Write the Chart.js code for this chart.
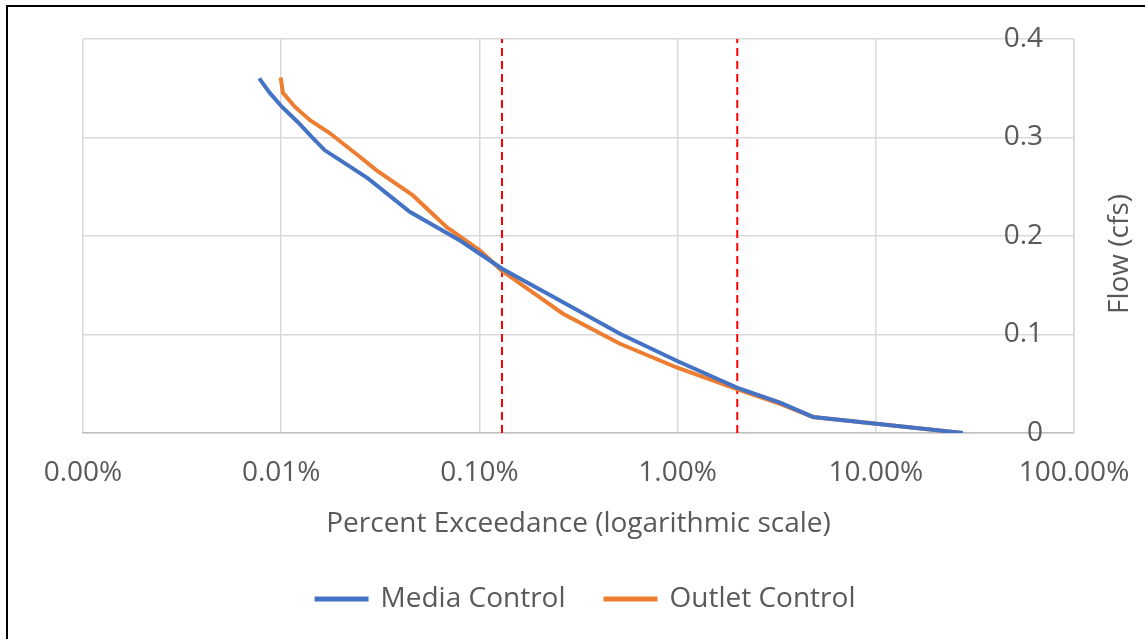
<!DOCTYPE html>
<html>
<head>
<meta charset="utf-8">
<script src="https://cdn.jsdelivr.net/npm/chart.js@4/dist/chart.umd.min.js"></script>
<style>
  html, body { margin: 0; padding: 0; background: #fff; }
  #wrap { width: 1145px; height: 639px; position: relative; }
</style>
</head>
<body>
<div id="wrap"><canvas id="flowChart" width="1145" height="639"></canvas></div>
<script>
// percent exceedance (x, in %) and flow (cfs)
const mediaPct = [0.00775, 0.00878, 0.0101, 0.01215, 0.01425, 0.0166, 0.0198, 0.0274, 0.0447, 0.0798, 0.1296, 0.2455, 0.512, 0.989, 1.99, 3.29, 4.82, 27.5];
const mediaFlow = [0.360, 0.345, 0.331, 0.3155, 0.3006, 0.287, 0.277, 0.2585, 0.2243, 0.1954, 0.167, 0.1364, 0.1008, 0.0733, 0.0461, 0.0308, 0.0163, 0];

const outletPct = [0.00994, 0.0102, 0.01174, 0.01397, 0.01763, 0.025, 0.0303, 0.0462, 0.0684, 0.1007, 0.1296, 0.206, 0.264, 0.512, 0.989, 1.99, 3.29, 4.82, 27.5];
const outletFlow = [0.361, 0.3454, 0.331, 0.3176, 0.3043, 0.2802, 0.2667, 0.2412, 0.209, 0.1852, 0.1649, 0.1364, 0.1211, 0.0906, 0.0665, 0.0445, 0.0295, 0.0163, 0];

const markerPct = [0.13, 2.0];
const xTicks = [0.001, 0.01, 0.1, 1, 10, 100];
const yTicks = [0, 0.1, 0.2, 0.3, 0.4];

const FONT = "'Open Sans', sans-serif";
const TEXT = '#595959';
const GRID = '#D9D9D9';
const SIZE = 28;

const toPoints = (xs, ys) => xs.map((x, i) => ({ x: x, y: ys[i] }));

const markerSets = markerPct.map(p => ({
    label: 'marker',
    data: [{ x: p, y: yTicks[0] }, { x: p, y: yTicks[yTicks.length - 1] }],
    borderColor: '#FF0000',
    borderWidth: 2,
    borderDash: [8, 5],
    pointRadius: 0,
    fill: false
}));

const frame = {
    id: 'frame',
    afterDraw(chart) {
        const c = chart.ctx;
        c.save();
        // outer frame (top and left only, as in the picture)
        c.strokeStyle = '#000';
        c.lineWidth = 2;
        c.beginPath();
        c.moveTo(7, 639);
        c.lineTo(7, 6);
        c.lineTo(1145, 6);
        c.stroke();
        // y axis title reads bottom to top
        c.fillStyle = TEXT;
        c.font = SIZE + 'px ' + FONT;
        c.textAlign = 'center';
        c.textBaseline = 'middle';
        c.translate(1120, 254);
        c.rotate(-Math.PI / 2);
        c.fillText('Flow (cfs)', 0, 0);
        c.restore();
    }
};

const ctx = document.getElementById('flowChart').getContext('2d');
const flowChart = new Chart(ctx, {
    type: 'line',
    data: {
        datasets: [
            {
                label: 'Media Control',
                data: toPoints(mediaPct, mediaFlow),
                borderColor: '#4472C4',
                backgroundColor: '#4472C4',
                borderWidth: 4,
                pointRadius: 0,
                fill: false
            },
            {
                label: 'Outlet Control',
                data: toPoints(outletPct, outletFlow),
                borderColor: '#ED7D31',
                backgroundColor: '#ED7D31',
                borderWidth: 4,
                pointRadius: 0,
                fill: false
            },
            ...markerSets
        ]
    },
    options: {
        responsive: false,
        animation: false,
        layout: { padding: { left: 83, top: 39, right: 56, bottom: 16 } },
        plugins: {
            legend: {
                position: 'bottom',
                labels: {
                    filter: item => item.text !== 'marker',
                    boxWidth: 50,
                    boxHeight: 1,
                    padding: 40,
                    color: TEXT,
                    font: { family: FONT, size: SIZE }
                }
            },
            tooltip: { enabled: false }
        },
        scales: {
            x: {
                type: 'logarithmic',
                min: xTicks[0],
                max: xTicks[xTicks.length - 1],
                afterBuildTicks: scale => { scale.ticks = xTicks.map(v => ({ value: v })); },
                afterFit: scale => {
                    scale.height = 112;
                    scale.paddingLeft = 0;
                    scale.paddingRight = 0;
                },
                grid: { color: GRID, lineWidth: 1.5, drawTicks: false },
                border: { color: '#BFBFBF', width: 1.5 },
                ticks: {
                    padding: 23,
                    maxRotation: 0,
                    autoSkip: false,
                    color: TEXT,
                    font: { family: FONT, size: SIZE },
                    callback: v => v.toFixed(2) + '%'
                },
                title: {
                    display: true,
                    text: 'Percent Exceedance (logarithmic scale)',
                    color: TEXT,
                    font: { family: FONT, size: SIZE },
                    padding: { top: 10, bottom: 4 }
                }
            },
            y: {
                position: 'right',
                min: yTicks[0],
                max: yTicks[yTicks.length - 1],
                afterBuildTicks: scale => { scale.ticks = yTicks.map(v => ({ value: v })); },
                afterFit: scale => { scale.width = 15; },
                grid: { color: GRID, lineWidth: 1.5, drawTicks: false },
                border: { color: GRID, width: 1.5 },
                ticks: {
                    mirror: true,
                    padding: -31,
                    color: TEXT,
                    font: { family: FONT, size: SIZE },
                    callback: v => String(Number(v.toFixed(1)))
                }
            }
        }
    },
    plugins: [frame]
});
</script>
</body>
</html>
